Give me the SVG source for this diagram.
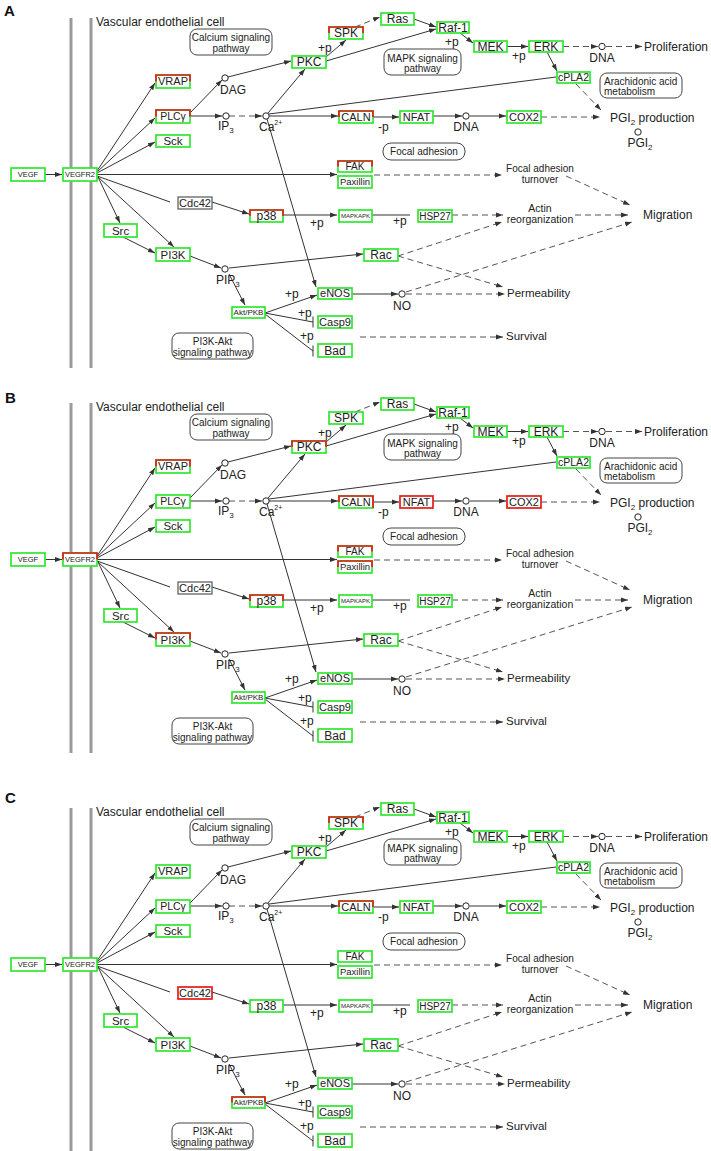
<svg xmlns="http://www.w3.org/2000/svg" width="711" height="1151" viewBox="0 0 711 1151">
<style>
.mem{stroke:#9a9a9a;stroke-width:3}
.e{fill:none;stroke:#333;stroke-width:1;marker-end:url(#ah)}
.ed{fill:none;stroke:#555;stroke-width:1;stroke-dasharray:6 4;marker-end:url(#ah)}
.el{fill:none;stroke:#333;stroke-width:1}
.gb{fill:#fff;stroke:#2ee82e;stroke-width:1.7}
.rt{fill:none;stroke:#e41b1b;stroke-width:1.7}
.rb{fill:#fff;stroke:#e41b1b;stroke-width:1.7}
.gr{fill:#fff;stroke:#555;stroke-width:1.2}
.pw{fill:#fff;stroke:#444;stroke-width:1}
.cp{fill:#fff;stroke:#222;stroke-width:1}
text{font-family:"Liberation Sans",Arial,sans-serif;fill:#222}
.n{text-anchor:middle}
.pl{font-weight:bold;font-size:15px;fill:#111}
.f12{font-size:12px}
</style>
<defs>
<marker id="ah" viewBox="0 0 10 10" refX="10" refY="5" markerWidth="7" markerHeight="7" orient="auto" markerUnits="userSpaceOnUse"><path d="M0,1.5L10,5L0,8.5z" fill="#333"/></marker>
</defs>
<rect width="711" height="1151" fill="#fff"/>

<!-- ================= PANEL A ================= -->
<g id="panelA">
<text class="pl" x="4" y="15.5">A</text>
<g id="A_cell"><line class="mem" x1="71" y1="18" x2="71" y2="368"/><line class="mem" x1="91" y1="18" x2="91" y2="368"/><text x="96" y="26" font-size="12">Vascular endothelial cell</text></g>
<g id="A_connectors">
<path class="e" d="M45,174.5H62"/>
<path class="e" d="M97,171L155,83"/>
<path class="e" d="M97,172L155,118"/>
<path class="e" d="M97,173L155,142"/>
<path class="e" d="M97,174.5H337"/>
<path class="el" d="M97,176L170,202"/>
<path class="e" d="M212,202L249,214"/>
<path class="e" d="M98,177L120,223"/>
<path class="e" d="M98,177L174,247"/>
<path class="e" d="M123,237L155,253"/>
<path class="e" d="M190,256L221,268"/>
<path class="e" d="M229,268L363,254"/>
<path class="e" d="M229,274L245,305"/>
<path class="e" d="M265,313L317,295"/>
<path class="el" d="M265,313L313,322M313,316.5V327.5"/>
<path class="el" d="M265,314L313,351M313,345.5V356.5"/>
<path class="e" d="M352,294H398"/>
<path class="e" d="M190,113L222,80"/>
<path class="e" d="M190,116H222"/>
<path class="ed" d="M229,116H262"/>
<path class="e" d="M228,77L291,61"/>
<path class="e" d="M268,113L305,69"/>
<path class="e" d="M269,116H338"/>
<path class="el" d="M269,114L556,77"/>
<path class="e" d="M267,119L316,287"/>
<path class="e" d="M326,57L346,40"/>
<path class="ed" d="M355,27L380,17"/>
<path class="e" d="M414,19L436,27"/>
<path class="e" d="M326,61L436,29"/>
<path class="e" d="M460,33L473,43"/>
<path class="e" d="M507,46.5H528"/>
<path class="ed" d="M563,46.5H598"/>
<path class="ed" d="M606,46.5H642"/>
<path class="e" d="M547,52L557,71"/>
<path class="ed" d="M576,84L601,110"/>
<path class="e" d="M373,117H399"/>
<path class="e" d="M433,116H462"/>
<path class="e" d="M470,116H506"/>
<path class="ed" d="M541,117H600"/>
<path class="ed" d="M374,175H502"/>
<path class="ed" d="M566,176L630,205"/>
<path class="e" d="M283,215H337"/>
<path class="el" d="M372,215H410"/>
<path class="ed" d="M452,215H503"/>
<path class="ed" d="M575,215H628"/>
<path class="ed" d="M398,256L502,222"/>
<path class="ed" d="M398,256L503,287"/>
<path class="ed" d="M406,294H505"/>
<path class="ed" d="M406,292L632,222"/>
<path class="ed" d="M360,337H503"/>
<text class="f12" x="318" y="52">+p</text>
<text class="f12" x="445" y="46">+p</text>
<text class="f12" x="512" y="60">+p</text>
<text class="f12" x="310" y="227">+p</text>
<text class="f12" x="393" y="225">+p</text>
<text class="f12" x="285" y="298">+p</text>
<text class="f12" x="298" y="317">+p</text>
<text class="f12" x="300" y="340">+p</text>
<text class="f12" x="378" y="131">-p</text>
</g>
<g id="A_VEGF"><rect class="gb" x="11" y="168" width="34" height="13"/><text class="n" x="28" y="177.2" font-size="7.5">VEGF</text></g>
<g id="A_VEGFR2"><rect class="gb" x="63" y="168" width="34" height="13"/><text class="n" x="80" y="177.2" font-size="7.5">VEGFR2</text></g>
<g id="A_VRAP"><rect class="gb" x="156" y="75" width="34" height="13"/><path class="rt" d="M156,81.5V75H190V81.5"/><text class="n" x="173" y="85.4" font-size="11">VRAP</text></g>
<g id="A_PLCg"><rect class="gb" x="156" y="110" width="34" height="13"/><path class="rt" d="M156,116.5V110H190V116.5"/><text class="n" x="173" y="120.2" font-size="10.5">PLCγ</text></g>
<g id="A_Sck"><rect class="gb" x="156" y="135" width="34" height="12"/><text class="n" x="173" y="145" font-size="11.5">Sck</text></g>
<g id="A_Src"><rect class="gb" x="104" y="224" width="33" height="13"/><text class="n" x="120.5" y="234.5" font-size="11.5">Src</text></g>
<g id="A_PI3K"><rect class="gb" x="156" y="248" width="34" height="13"/><text class="n" x="173" y="258.5" font-size="11.5">PI3K</text></g>
<g id="A_Cdc42"><rect class="gr" x="178" y="197" width="34" height="12"/><text class="n" x="195" y="207" font-size="11">Cdc42</text></g>
<g id="A_p38"><rect class="gb" x="250" y="210" width="33" height="12"/><path class="rt" d="M250,216V210H283V216"/><text class="n" x="266.5" y="220.2" font-size="12">p38</text></g>
<g id="A_MAPKAPK"><rect class="gb" x="339" y="210" width="33" height="12"/><text class="n" x="355.5" y="218.2" font-size="6">MAPKAPK</text></g>
<g id="A_HSP27"><rect class="gb" x="418" y="210" width="34" height="12"/><text class="n" x="435" y="219.6" font-size="10">HSP27</text></g>
<g id="A_Rac"><rect class="gb" x="364" y="249" width="34" height="12"/><text class="n" x="381" y="259.2" font-size="12">Rac</text></g>
<g id="A_Akt"><rect class="gb" x="232" y="307" width="33" height="11"/><text class="n" x="248.5" y="315.3" font-size="8">Akt/PKB</text></g>
<g id="A_eNOS"><rect class="gb" x="318" y="288" width="34" height="11"/><text class="n" x="335" y="297.3" font-size="11">eNOS</text></g>
<g id="A_Casp9"><rect class="gb" x="318" y="316" width="34" height="12"/><text class="n" x="335" y="325.9" font-size="11">Casp9</text></g>
<g id="A_Bad"><rect class="gb" x="318" y="344" width="34" height="13"/><text class="n" x="335" y="354.7" font-size="12">Bad</text></g>
<g id="A_PKC"><rect class="gb" x="292" y="56" width="34" height="12"/><text class="n" x="309" y="66.2" font-size="12">PKC</text></g>
<g id="A_SPK"><rect class="gb" x="329" y="27" width="34" height="12"/><path class="rt" d="M329,33V27H363V33"/><text class="n" x="346" y="37.2" font-size="12">SPK</text></g>
<g id="A_Ras"><rect class="gb" x="381" y="13" width="33" height="12"/><text class="n" x="397.5" y="23.2" font-size="12">Ras</text></g>
<g id="A_Raf1"><rect class="gb" x="437" y="22" width="32" height="11"/><text class="n" x="453" y="31.7" font-size="12">Raf-1</text></g>
<g id="A_MEK"><rect class="gb" x="474" y="41" width="33" height="11"/><text class="n" x="490.5" y="50.7" font-size="12">MEK</text></g>
<g id="A_ERK"><rect class="gb" x="529" y="41" width="34" height="11"/><text class="n" x="546" y="50.7" font-size="12">ERK</text></g>
<g id="A_cPLA2"><rect class="gb" x="557" y="72" width="33" height="11"/><text class="n" x="573.5" y="81.2" font-size="10.5">cPLA2</text></g>
<g id="A_CALN"><rect class="gb" x="339" y="111" width="34" height="12"/><path class="rt" d="M339,117V111H373V117"/><text class="n" x="356" y="120.8" font-size="11">CALN</text></g>
<g id="A_NFAT"><rect class="gb" x="400" y="111" width="33" height="12"/><text class="n" x="416.5" y="120.8" font-size="11">NFAT</text></g>
<g id="A_COX2"><rect class="gb" x="507" y="111" width="34" height="12"/><text class="n" x="524" y="120.8" font-size="11">COX2</text></g>
<g id="A_FAK"><rect class="gb" x="338" y="161" width="34" height="11"/><path class="rt" d="M338,166.5V161H372V166.5"/><text class="n" x="355" y="170" font-size="10">FAK</text></g>
<g id="A_Paxillin"><rect class="gb" x="338" y="176" width="34" height="12"/><text class="n" x="355" y="185.4" font-size="9.5">Paxillin</text></g>
<g id="A_DAG"><circle class="cp" cx="225" cy="78" r="3.2"/><text x="220" y="94" font-size="12">DAG</text></g>
<g id="A_IP3"><circle class="cp" cx="226" cy="116" r="3.2"/><text x="218" y="130" font-size="12">IP<tspan font-size="8" dy="3">3</tspan></text></g>
<g id="A_Ca"><circle class="cp" cx="266" cy="116" r="3.2"/><text x="259" y="131" font-size="12">Ca<tspan font-size="7" dy="-6">2+</tspan></text></g>
<g id="A_DNA1"><circle class="cp" cx="466" cy="116" r="3.2"/><text class="n" x="466" y="131" font-size="12">DNA</text></g>
<g id="A_DNA2"><circle class="cp" cx="602" cy="46.5" r="3.2"/><text class="n" x="602" y="62" font-size="12">DNA</text></g>
<g id="A_PGI2"><circle class="cp" cx="638" cy="132" r="3.2"/><text class="n" x="640" y="147" font-size="12">PGI<tspan font-size="8" dy="3">2</tspan></text></g>
<g id="A_PIP3"><circle class="cp" cx="225" cy="269" r="3.2"/><text x="216" y="284" font-size="12">PIP<tspan font-size="8" dy="3">3</tspan></text></g>
<g id="A_NO"><circle class="cp" cx="402" cy="294" r="3.2"/><text class="n" x="402" y="310" font-size="12">NO</text></g>
<g id="A_calcium"><rect class="pw" x="190" y="29" width="82" height="26" rx="7"/><text class="n" x="231" y="40.5" font-size="10">Calcium signaling</text><text class="n" x="231" y="51.5" font-size="10">pathway</text></g>
<g id="A_mapk"><rect class="pw" x="384" y="49" width="77" height="26" rx="7"/><text class="n" x="422.5" y="61.5" font-size="10">MAPK signaling</text><text class="n" x="422.5" y="72" font-size="10">pathway</text></g>
<g id="A_arach"><rect class="pw" x="600" y="73" width="82" height="25" rx="7"/><text x="604" y="84.5" font-size="10">Arachidonic acid</text><text x="604" y="95" font-size="10">metabolism</text></g>
<g id="A_focal"><rect class="pw" x="383" y="143" width="82" height="17" rx="8"/><text class="n" x="424" y="155" font-size="10">Focal adhesion</text></g>
<g id="A_pi3kakt"><rect class="pw" x="172" y="333" width="81" height="26" rx="7"/><text class="n" x="212.5" y="345" font-size="10">PI3K-Akt</text><text class="n" x="212.5" y="356" font-size="10">signaling pathway</text></g>
<g id="A_prolif"><text x="644" y="51" font-size="12">Proliferation</text></g>
<g id="A_pgiprod"><text x="610" y="122" font-size="12">PGI<tspan font-size="8" dy="3">2</tspan><tspan dy="-3"> production</tspan></text></g>
<g id="A_fat"><text class="n" x="540" y="172" font-size="10">Focal adhesion</text><text class="n" x="540" y="183" font-size="10">turnover</text></g>
<g id="A_actin"><text class="n" x="540" y="212" font-size="10.5">Actin</text><text class="n" x="540" y="223" font-size="10.5">reorganization</text></g>
<g id="A_migration"><text x="643" y="219" font-size="12">Migration</text></g>
<g id="A_perm"><text x="507" y="297" font-size="11.5">Permeability</text></g>
<g id="A_survival"><text x="506" y="340" font-size="11.5">Survival</text></g>
</g>

<!-- ================= PANEL B ================= -->
<g id="panelB" transform="translate(0,385)">
<text class="pl" x="5" y="18">B</text>
<g id="B_cell"><line class="mem" x1="71" y1="18" x2="71" y2="368"/><line class="mem" x1="91" y1="18" x2="91" y2="368"/><text x="96" y="26" font-size="12">Vascular endothelial cell</text></g>
<g id="B_connectors">
<path class="e" d="M45,174.5H62"/>
<path class="e" d="M97,171L155,83"/>
<path class="e" d="M97,172L155,118"/>
<path class="e" d="M97,173L155,142"/>
<path class="e" d="M97,174.5H337"/>
<path class="el" d="M97,176L170,202"/>
<path class="e" d="M212,202L249,214"/>
<path class="e" d="M98,177L120,223"/>
<path class="e" d="M98,177L174,247"/>
<path class="e" d="M123,237L155,253"/>
<path class="e" d="M190,256L221,268"/>
<path class="e" d="M229,268L363,254"/>
<path class="e" d="M229,274L245,305"/>
<path class="e" d="M265,313L317,295"/>
<path class="el" d="M265,313L313,322M313,316.5V327.5"/>
<path class="el" d="M265,314L313,351M313,345.5V356.5"/>
<path class="e" d="M352,294H398"/>
<path class="e" d="M190,113L222,80"/>
<path class="e" d="M190,116H222"/>
<path class="ed" d="M229,116H262"/>
<path class="e" d="M228,77L291,61"/>
<path class="e" d="M268,113L305,69"/>
<path class="e" d="M269,116H338"/>
<path class="el" d="M269,114L556,77"/>
<path class="e" d="M267,119L316,287"/>
<path class="e" d="M326,57L346,40"/>
<path class="ed" d="M355,27L380,17"/>
<path class="e" d="M414,19L436,27"/>
<path class="e" d="M326,61L436,29"/>
<path class="e" d="M460,33L473,43"/>
<path class="e" d="M507,46.5H528"/>
<path class="ed" d="M563,46.5H598"/>
<path class="ed" d="M606,46.5H642"/>
<path class="e" d="M547,52L557,71"/>
<path class="ed" d="M576,84L601,110"/>
<path class="e" d="M373,117H399"/>
<path class="e" d="M433,116H462"/>
<path class="e" d="M470,116H506"/>
<path class="ed" d="M541,117H600"/>
<path class="ed" d="M374,175H502"/>
<path class="ed" d="M566,176L630,205"/>
<path class="e" d="M283,215H337"/>
<path class="el" d="M372,215H410"/>
<path class="ed" d="M452,215H503"/>
<path class="ed" d="M575,215H628"/>
<path class="ed" d="M398,256L502,222"/>
<path class="ed" d="M398,256L503,287"/>
<path class="ed" d="M406,294H505"/>
<path class="ed" d="M406,292L632,222"/>
<path class="ed" d="M360,337H503"/>
<text class="f12" x="318" y="52">+p</text>
<text class="f12" x="445" y="46">+p</text>
<text class="f12" x="512" y="60">+p</text>
<text class="f12" x="310" y="227">+p</text>
<text class="f12" x="393" y="225">+p</text>
<text class="f12" x="285" y="298">+p</text>
<text class="f12" x="298" y="317">+p</text>
<text class="f12" x="300" y="340">+p</text>
<text class="f12" x="378" y="131">-p</text>
</g>
<g id="B_VEGF"><rect class="gb" x="11" y="168" width="34" height="13"/><text class="n" x="28" y="177.2" font-size="7.5">VEGF</text></g>
<g id="B_VEGFR2"><rect class="gb" x="63" y="168" width="34" height="13"/><path class="rt" d="M63,174.5V168H97V174.5"/><text class="n" x="80" y="177.2" font-size="7.5">VEGFR2</text></g>
<g id="B_VRAP"><rect class="gb" x="156" y="75" width="34" height="13"/><path class="rt" d="M156,81.5V75H190V81.5"/><text class="n" x="173" y="85.4" font-size="11">VRAP</text></g>
<g id="B_PLCg"><rect class="gb" x="156" y="110" width="34" height="13"/><text class="n" x="173" y="120.2" font-size="10.5">PLCγ</text></g>
<g id="B_Sck"><rect class="gb" x="156" y="135" width="34" height="12"/><text class="n" x="173" y="145" font-size="11.5">Sck</text></g>
<g id="B_Src"><rect class="gb" x="104" y="224" width="33" height="13"/><text class="n" x="120.5" y="234.5" font-size="11.5">Src</text></g>
<g id="B_PI3K"><rect class="gb" x="156" y="248" width="34" height="13"/><path class="rt" d="M156,254.5V248H190V254.5"/><text class="n" x="173" y="258.5" font-size="11.5">PI3K</text></g>
<g id="B_Cdc42"><rect class="gr" x="178" y="197" width="34" height="12"/><text class="n" x="195" y="207" font-size="11">Cdc42</text></g>
<g id="B_p38"><rect class="gb" x="250" y="210" width="33" height="12"/><path class="rt" d="M250,216V210H283V216"/><text class="n" x="266.5" y="220.2" font-size="12">p38</text></g>
<g id="B_MAPKAPK"><rect class="gb" x="339" y="210" width="33" height="12"/><text class="n" x="355.5" y="218.2" font-size="6">MAPKAPK</text></g>
<g id="B_HSP27"><rect class="gb" x="418" y="210" width="34" height="12"/><text class="n" x="435" y="219.6" font-size="10">HSP27</text></g>
<g id="B_Rac"><rect class="gb" x="364" y="249" width="34" height="12"/><text class="n" x="381" y="259.2" font-size="12">Rac</text></g>
<g id="B_Akt"><rect class="gb" x="232" y="307" width="33" height="11"/><text class="n" x="248.5" y="315.3" font-size="8">Akt/PKB</text></g>
<g id="B_eNOS"><rect class="gb" x="318" y="288" width="34" height="11"/><text class="n" x="335" y="297.3" font-size="11">eNOS</text></g>
<g id="B_Casp9"><rect class="gb" x="318" y="316" width="34" height="12"/><text class="n" x="335" y="325.9" font-size="11">Casp9</text></g>
<g id="B_Bad"><rect class="gb" x="318" y="344" width="34" height="13"/><text class="n" x="335" y="354.7" font-size="12">Bad</text></g>
<g id="B_PKC"><rect class="gb" x="292" y="56" width="34" height="12"/><path class="rt" d="M292,62V56H326V62"/><text class="n" x="309" y="66.2" font-size="12">PKC</text></g>
<g id="B_SPK"><rect class="gb" x="329" y="27" width="34" height="12"/><text class="n" x="346" y="37.2" font-size="12">SPK</text></g>
<g id="B_Ras"><rect class="gb" x="381" y="13" width="33" height="12"/><text class="n" x="397.5" y="23.2" font-size="12">Ras</text></g>
<g id="B_Raf1"><rect class="gb" x="437" y="22" width="32" height="11"/><text class="n" x="453" y="31.7" font-size="12">Raf-1</text></g>
<g id="B_MEK"><rect class="gb" x="474" y="41" width="33" height="11"/><text class="n" x="490.5" y="50.7" font-size="12">MEK</text></g>
<g id="B_ERK"><rect class="gb" x="529" y="41" width="34" height="11"/><text class="n" x="546" y="50.7" font-size="12">ERK</text></g>
<g id="B_cPLA2"><rect class="gb" x="557" y="72" width="33" height="11"/><text class="n" x="573.5" y="81.2" font-size="10.5">cPLA2</text></g>
<g id="B_CALN"><rect class="gb" x="339" y="111" width="34" height="12"/><path class="rt" d="M339,117V111H373V123"/><text class="n" x="356" y="120.8" font-size="11">CALN</text></g>
<g id="B_NFAT"><rect class="rb" x="400" y="111" width="33" height="12"/><text class="n" x="416.5" y="120.8" font-size="11">NFAT</text></g>
<g id="B_COX2"><rect class="rb" x="507" y="111" width="34" height="12"/><text class="n" x="524" y="120.8" font-size="11">COX2</text></g>
<g id="B_FAK"><rect class="gb" x="338" y="161" width="34" height="11"/><path class="rt" d="M338,166.5V161H372V166.5"/><text class="n" x="355" y="170" font-size="10">FAK</text></g>
<g id="B_Paxillin"><rect class="gb" x="338" y="176" width="34" height="12"/><path class="rt" d="M338,182V176H372V182"/><text class="n" x="355" y="185.4" font-size="9.5">Paxillin</text></g>
<g id="B_DAG"><circle class="cp" cx="225" cy="78" r="3.2"/><text x="220" y="94" font-size="12">DAG</text></g>
<g id="B_IP3"><circle class="cp" cx="226" cy="116" r="3.2"/><text x="218" y="130" font-size="12">IP<tspan font-size="8" dy="3">3</tspan></text></g>
<g id="B_Ca"><circle class="cp" cx="266" cy="116" r="3.2"/><text x="259" y="131" font-size="12">Ca<tspan font-size="7" dy="-6">2+</tspan></text></g>
<g id="B_DNA1"><circle class="cp" cx="466" cy="116" r="3.2"/><text class="n" x="466" y="131" font-size="12">DNA</text></g>
<g id="B_DNA2"><circle class="cp" cx="602" cy="46.5" r="3.2"/><text class="n" x="602" y="62" font-size="12">DNA</text></g>
<g id="B_PGI2"><circle class="cp" cx="638" cy="132" r="3.2"/><text class="n" x="640" y="147" font-size="12">PGI<tspan font-size="8" dy="3">2</tspan></text></g>
<g id="B_PIP3"><circle class="cp" cx="225" cy="269" r="3.2"/><text x="216" y="284" font-size="12">PIP<tspan font-size="8" dy="3">3</tspan></text></g>
<g id="B_NO"><circle class="cp" cx="402" cy="294" r="3.2"/><text class="n" x="402" y="310" font-size="12">NO</text></g>
<g id="B_calcium"><rect class="pw" x="190" y="29" width="82" height="26" rx="7"/><text class="n" x="231" y="40.5" font-size="10">Calcium signaling</text><text class="n" x="231" y="51.5" font-size="10">pathway</text></g>
<g id="B_mapk"><rect class="pw" x="384" y="49" width="77" height="26" rx="7"/><text class="n" x="422.5" y="61.5" font-size="10">MAPK signaling</text><text class="n" x="422.5" y="72" font-size="10">pathway</text></g>
<g id="B_arach"><rect class="pw" x="600" y="73" width="82" height="25" rx="7"/><text x="604" y="84.5" font-size="10">Arachidonic acid</text><text x="604" y="95" font-size="10">metabolism</text></g>
<g id="B_focal"><rect class="pw" x="383" y="143" width="82" height="17" rx="8"/><text class="n" x="424" y="155" font-size="10">Focal adhesion</text></g>
<g id="B_pi3kakt"><rect class="pw" x="172" y="333" width="81" height="26" rx="7"/><text class="n" x="212.5" y="345" font-size="10">PI3K-Akt</text><text class="n" x="212.5" y="356" font-size="10">signaling pathway</text></g>
<g id="B_prolif"><text x="644" y="51" font-size="12">Proliferation</text></g>
<g id="B_pgiprod"><text x="610" y="122" font-size="12">PGI<tspan font-size="8" dy="3">2</tspan><tspan dy="-3"> production</tspan></text></g>
<g id="B_fat"><text class="n" x="540" y="172" font-size="10">Focal adhesion</text><text class="n" x="540" y="183" font-size="10">turnover</text></g>
<g id="B_actin"><text class="n" x="540" y="212" font-size="10.5">Actin</text><text class="n" x="540" y="223" font-size="10.5">reorganization</text></g>
<g id="B_migration"><text x="643" y="219" font-size="12">Migration</text></g>
<g id="B_perm"><text x="507" y="297" font-size="11.5">Permeability</text></g>
<g id="B_survival"><text x="506" y="340" font-size="11.5">Survival</text></g>
</g>

<!-- ================= PANEL C ================= -->
<g id="panelC" transform="translate(0,790)">
<text class="pl" x="5" y="12.5">C</text>
<g id="C_cell"><line class="mem" x1="71" y1="18" x2="71" y2="362"/><line class="mem" x1="91" y1="18" x2="91" y2="362"/><text x="96" y="26" font-size="12">Vascular endothelial cell</text></g>
<g id="C_connectors">
<path class="e" d="M45,174.5H62"/>
<path class="e" d="M97,171L155,83"/>
<path class="e" d="M97,172L155,118"/>
<path class="e" d="M97,173L155,142"/>
<path class="e" d="M97,174.5H337"/>
<path class="el" d="M97,176L170,202"/>
<path class="e" d="M212,202L249,214"/>
<path class="e" d="M98,177L120,223"/>
<path class="e" d="M98,177L174,247"/>
<path class="e" d="M123,237L155,253"/>
<path class="e" d="M190,256L221,268"/>
<path class="e" d="M229,268L363,254"/>
<path class="e" d="M229,274L245,305"/>
<path class="e" d="M265,313L317,295"/>
<path class="el" d="M265,313L313,322M313,316.5V327.5"/>
<path class="el" d="M265,314L313,351M313,345.5V356.5"/>
<path class="e" d="M352,294H398"/>
<path class="e" d="M190,113L222,80"/>
<path class="e" d="M190,116H222"/>
<path class="ed" d="M229,116H262"/>
<path class="e" d="M228,77L291,61"/>
<path class="e" d="M268,113L305,69"/>
<path class="e" d="M269,116H338"/>
<path class="el" d="M269,114L556,77"/>
<path class="e" d="M267,119L316,287"/>
<path class="e" d="M326,57L346,40"/>
<path class="ed" d="M355,27L380,17"/>
<path class="e" d="M414,19L436,27"/>
<path class="e" d="M326,61L436,29"/>
<path class="e" d="M460,33L473,43"/>
<path class="e" d="M507,46.5H528"/>
<path class="ed" d="M563,46.5H598"/>
<path class="ed" d="M606,46.5H642"/>
<path class="e" d="M547,52L557,71"/>
<path class="ed" d="M576,84L601,110"/>
<path class="e" d="M373,117H399"/>
<path class="e" d="M433,116H462"/>
<path class="e" d="M470,116H506"/>
<path class="ed" d="M541,117H600"/>
<path class="ed" d="M374,175H502"/>
<path class="ed" d="M566,176L630,205"/>
<path class="e" d="M283,215H337"/>
<path class="el" d="M372,215H410"/>
<path class="ed" d="M452,215H503"/>
<path class="ed" d="M575,215H628"/>
<path class="ed" d="M398,256L502,222"/>
<path class="ed" d="M398,256L503,287"/>
<path class="ed" d="M406,294H505"/>
<path class="ed" d="M406,292L632,222"/>
<path class="ed" d="M360,337H503"/>
<text class="f12" x="318" y="52">+p</text>
<text class="f12" x="445" y="46">+p</text>
<text class="f12" x="512" y="60">+p</text>
<text class="f12" x="310" y="227">+p</text>
<text class="f12" x="393" y="225">+p</text>
<text class="f12" x="285" y="298">+p</text>
<text class="f12" x="298" y="317">+p</text>
<text class="f12" x="300" y="340">+p</text>
<text class="f12" x="378" y="131">-p</text>
</g>
<g id="C_VEGF"><rect class="gb" x="11" y="168" width="34" height="13"/><text class="n" x="28" y="177.2" font-size="7.5">VEGF</text></g>
<g id="C_VEGFR2"><rect class="gb" x="63" y="168" width="34" height="13"/><text class="n" x="80" y="177.2" font-size="7.5">VEGFR2</text></g>
<g id="C_VRAP"><rect class="gb" x="156" y="75" width="34" height="13"/><text class="n" x="173" y="85.4" font-size="11">VRAP</text></g>
<g id="C_PLCg"><rect class="gb" x="156" y="110" width="34" height="13"/><text class="n" x="173" y="120.2" font-size="10.5">PLCγ</text></g>
<g id="C_Sck"><rect class="gb" x="156" y="135" width="34" height="12"/><text class="n" x="173" y="145" font-size="11.5">Sck</text></g>
<g id="C_Src"><rect class="gb" x="104" y="224" width="33" height="13"/><text class="n" x="120.5" y="234.5" font-size="11.5">Src</text></g>
<g id="C_PI3K"><rect class="gb" x="156" y="248" width="34" height="13"/><text class="n" x="173" y="258.5" font-size="11.5">PI3K</text></g>
<g id="C_Cdc42"><rect class="rb" x="178" y="197" width="34" height="12"/><text class="n" x="195" y="207" font-size="11">Cdc42</text></g>
<g id="C_p38"><rect class="gb" x="250" y="210" width="33" height="12"/><text class="n" x="266.5" y="220.2" font-size="12">p38</text></g>
<g id="C_MAPKAPK"><rect class="gb" x="339" y="210" width="33" height="12"/><text class="n" x="355.5" y="218.2" font-size="6">MAPKAPK</text></g>
<g id="C_HSP27"><rect class="gb" x="418" y="210" width="34" height="12"/><text class="n" x="435" y="219.6" font-size="10">HSP27</text></g>
<g id="C_Rac"><rect class="gb" x="364" y="249" width="34" height="12"/><text class="n" x="381" y="259.2" font-size="12">Rac</text></g>
<g id="C_Akt"><rect class="gb" x="232" y="307" width="33" height="11"/><path class="rt" d="M232,312.5V307H265V312.5"/><text class="n" x="248.5" y="315.3" font-size="8">Akt/PKB</text></g>
<g id="C_eNOS"><rect class="gb" x="318" y="288" width="34" height="11"/><text class="n" x="335" y="297.3" font-size="11">eNOS</text></g>
<g id="C_Casp9"><rect class="gb" x="318" y="316" width="34" height="12"/><text class="n" x="335" y="325.9" font-size="11">Casp9</text></g>
<g id="C_Bad"><rect class="gb" x="318" y="344" width="34" height="13"/><text class="n" x="335" y="354.7" font-size="12">Bad</text></g>
<g id="C_PKC"><rect class="gb" x="292" y="56" width="34" height="12"/><text class="n" x="309" y="66.2" font-size="12">PKC</text></g>
<g id="C_SPK"><rect class="gb" x="329" y="27" width="34" height="12"/><path class="rt" d="M329,33V27H363V33"/><text class="n" x="346" y="37.2" font-size="12">SPK</text></g>
<g id="C_Ras"><rect class="gb" x="381" y="13" width="33" height="12"/><text class="n" x="397.5" y="23.2" font-size="12">Ras</text></g>
<g id="C_Raf1"><rect class="gb" x="437" y="22" width="32" height="11"/><text class="n" x="453" y="31.7" font-size="12">Raf-1</text></g>
<g id="C_MEK"><rect class="gb" x="474" y="41" width="33" height="11"/><text class="n" x="490.5" y="50.7" font-size="12">MEK</text></g>
<g id="C_ERK"><rect class="gb" x="529" y="41" width="34" height="11"/><text class="n" x="546" y="50.7" font-size="12">ERK</text></g>
<g id="C_cPLA2"><rect class="gb" x="557" y="72" width="33" height="11"/><text class="n" x="573.5" y="81.2" font-size="10.5">cPLA2</text></g>
<g id="C_CALN"><rect class="gb" x="339" y="111" width="34" height="12"/><path class="rt" d="M339,117V111H373V117"/><text class="n" x="356" y="120.8" font-size="11">CALN</text></g>
<g id="C_NFAT"><rect class="gb" x="400" y="111" width="33" height="12"/><text class="n" x="416.5" y="120.8" font-size="11">NFAT</text></g>
<g id="C_COX2"><rect class="gb" x="507" y="111" width="34" height="12"/><text class="n" x="524" y="120.8" font-size="11">COX2</text></g>
<g id="C_FAK"><rect class="gb" x="338" y="161" width="34" height="11"/><text class="n" x="355" y="170" font-size="10">FAK</text></g>
<g id="C_Paxillin"><rect class="gb" x="338" y="176" width="34" height="12"/><text class="n" x="355" y="185.4" font-size="9.5">Paxillin</text></g>
<g id="C_DAG"><circle class="cp" cx="225" cy="78" r="3.2"/><text x="220" y="94" font-size="12">DAG</text></g>
<g id="C_IP3"><circle class="cp" cx="226" cy="116" r="3.2"/><text x="218" y="130" font-size="12">IP<tspan font-size="8" dy="3">3</tspan></text></g>
<g id="C_Ca"><circle class="cp" cx="266" cy="116" r="3.2"/><text x="259" y="131" font-size="12">Ca<tspan font-size="7" dy="-6">2+</tspan></text></g>
<g id="C_DNA1"><circle class="cp" cx="466" cy="116" r="3.2"/><text class="n" x="466" y="131" font-size="12">DNA</text></g>
<g id="C_DNA2"><circle class="cp" cx="602" cy="46.5" r="3.2"/><text class="n" x="602" y="62" font-size="12">DNA</text></g>
<g id="C_PGI2"><circle class="cp" cx="638" cy="132" r="3.2"/><text class="n" x="640" y="147" font-size="12">PGI<tspan font-size="8" dy="3">2</tspan></text></g>
<g id="C_PIP3"><circle class="cp" cx="225" cy="269" r="3.2"/><text x="216" y="284" font-size="12">PIP<tspan font-size="8" dy="3">3</tspan></text></g>
<g id="C_NO"><circle class="cp" cx="402" cy="294" r="3.2"/><text class="n" x="402" y="310" font-size="12">NO</text></g>
<g id="C_calcium"><rect class="pw" x="190" y="29" width="82" height="26" rx="7"/><text class="n" x="231" y="40.5" font-size="10">Calcium signaling</text><text class="n" x="231" y="51.5" font-size="10">pathway</text></g>
<g id="C_mapk"><rect class="pw" x="384" y="49" width="77" height="26" rx="7"/><text class="n" x="422.5" y="61.5" font-size="10">MAPK signaling</text><text class="n" x="422.5" y="72" font-size="10">pathway</text></g>
<g id="C_arach"><rect class="pw" x="600" y="73" width="82" height="25" rx="7"/><text x="604" y="84.5" font-size="10">Arachidonic acid</text><text x="604" y="95" font-size="10">metabolism</text></g>
<g id="C_focal"><rect class="pw" x="383" y="143" width="82" height="17" rx="8"/><text class="n" x="424" y="155" font-size="10">Focal adhesion</text></g>
<g id="C_pi3kakt"><rect class="pw" x="172" y="333" width="81" height="26" rx="7"/><text class="n" x="212.5" y="345" font-size="10">PI3K-Akt</text><text class="n" x="212.5" y="356" font-size="10">signaling pathway</text></g>
<g id="C_prolif"><text x="644" y="51" font-size="12">Proliferation</text></g>
<g id="C_pgiprod"><text x="610" y="122" font-size="12">PGI<tspan font-size="8" dy="3">2</tspan><tspan dy="-3"> production</tspan></text></g>
<g id="C_fat"><text class="n" x="540" y="172" font-size="10">Focal adhesion</text><text class="n" x="540" y="183" font-size="10">turnover</text></g>
<g id="C_actin"><text class="n" x="540" y="212" font-size="10.5">Actin</text><text class="n" x="540" y="223" font-size="10.5">reorganization</text></g>
<g id="C_migration"><text x="643" y="219" font-size="12">Migration</text></g>
<g id="C_perm"><text x="507" y="297" font-size="11.5">Permeability</text></g>
<g id="C_survival"><text x="506" y="340" font-size="11.5">Survival</text></g>
</g>
</svg>
